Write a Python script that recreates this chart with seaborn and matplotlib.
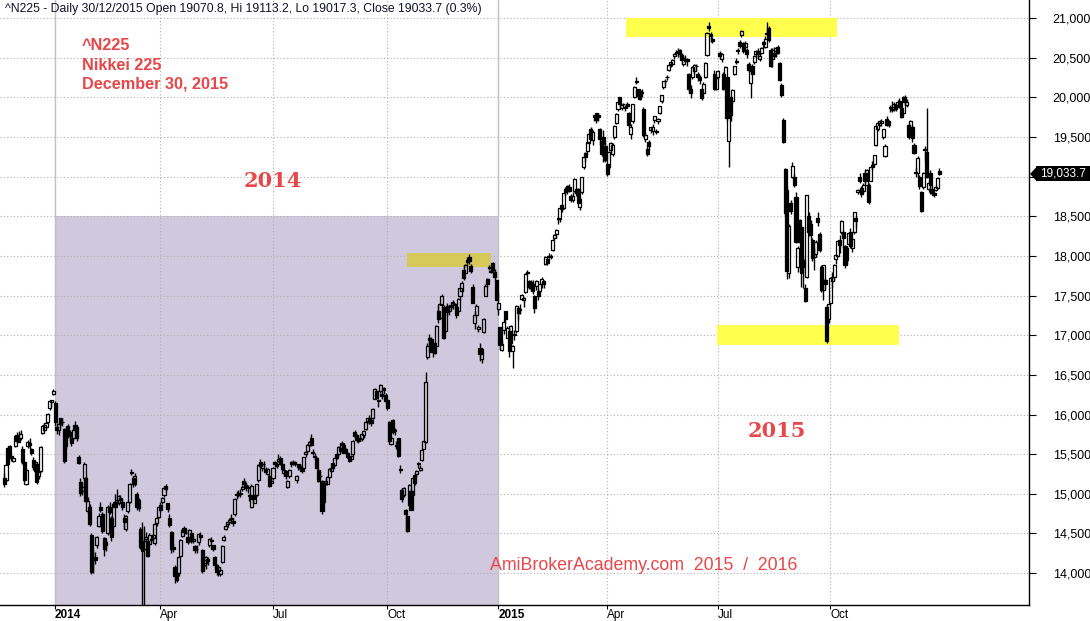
import matplotlib
matplotlib.use("Agg")
import matplotlib.pyplot as plt
from matplotlib.patches import Rectangle, Polygon
from matplotlib.collections import LineCollection, PatchCollection
import pandas as pd
import seaborn as sns

# ---------------- data: daily (open, high, low, close) per month ----------------
ohlc_2013_11 = [(15200,15260,15080,15126),(15170,15380,15150,15366),(15580,15600,15370,15382),(15600,15620,15480,15516),
                (15480,15520,15420,15450),(15420,15470,15400,15450),(15600,15730,15590,15728),(15740,15780,15640,15662)]
ohlc_2013_12 = [(15700,15790,15650,15655),(15700,15800,15680,15749),(15560,15600,15380,15407),(15400,15420,15150,15178),
                (15130,15320,15110,15300),(15600,15680,15580,15651),(15640,15700,15570,15611),(15560,15580,15490,15515),
                (15430,15460,15300,15341),(15290,15420,15270,15403),(15380,15390,15130,15152),(15220,15300,15190,15279),
                (15290,15600,15280,15587),(15770,15870,15750,15859),(15800,15890,15780,15870),(15840,15900,15820,15889),
                (15900,16020,15880,16009),(16080,16180,16060,16174),(16160,16180,16100,16178),(16260,16320,16250,16291)]
ohlc_2014_01 = [(16150,16170,15860,15910),(15840,15890,15760,15810),(15800,15900,15740,15880),(15950,15960,15830,15880),
                (15900,15950,15860,15910),(15820,15830,15390,15420),(15600,15830,15570,15810),(15850,15880,15700,15750),
                (15780,15800,15660,15730),(15700,15720,15600,15640),(15700,15820,15680,15800),(15870,15920,15800,15820),
                (15840,15860,15670,15700),(15460,15490,15370,15390),(15150,15200,14970,15010),(15040,15150,14990,15090),
                (15200,15400,15160,15380),(15200,15220,14890,14910),(14780,14960,14750,14910)]
ohlc_2014_02 = [(14830,14870,14600,14620),(14480,14500,13990,14010),(14160,14290,14000,14180),(14200,14270,14110,14160),
                (14360,14470,14320,14460),(14600,14760,14580,14720),(14840,14900,14770,14800),(14750,14770,14500,14530),
                (14440,14460,14210,14310),(14360,14420,14280,14390),(14500,14860,14480,14840),(14830,14900,14740,14770),
                (14700,14720,14410,14450),(14600,14880,14570,14870),(14900,15000,14820,14840),(14890,15060,14870,14920),
                (14880,14990,14860,14970),(14950,14990,14890,14920),(14900,14940,14790,14840)]
ohlc_2014_03 = [(14690,14740,14560,14650),(14560,14730,14530,14720),(14780,14910,14760,14900),(14900,15140,14880,15130),
                (15260,15310,15240,15270),(15200,15230,15090,15120),(15130,15260,15100,15220),(15000,15020,14800,14830),
                (14920,14950,14780,14820),(14560,14580,14300,14330),(14400,14640,13500,14280),(14300,14600,13500,14410),
                (14430,14520,14380,14460),(14400,14420,14200,14220),(14370,14500,14340,14480),(14430,14450,14380,14420),
                (14440,14500,14420,14480),(14380,14650,14350,14620),(14630,14720,14600,14700),(14710,14840,14700,14830)]
ohlc_2014_04 = [(14860,14900,14770,14790),(14900,14960,14870,14950),(14980,15100,14960,15070),(15100,15130,15020,15060),
                (14880,14890,14770,14810),(14700,14740,14580,14610),(14520,14530,14250,14300),(14330,14380,14270,14300),
                (14080,14100,13880,13960),(14000,14020,13890,13910),(14000,14220,13960,14200),(14220,14430,14200,14420),
                (14470,14560,14450,14550),(14570,14600,14480,14520),(14500,14560,14490,14510),(14460,14470,14370,14390),
                (14400,14560,14390,14550),(14500,14510,14380,14400),(14400,14470,14380,14430),(14340,14350,14250,14290),
                (14300,14350,14260,14300)]
ohlc_2014_05 = [(14390,14500,14360,14490),(14480,14520,14420,14460),(14290,14300,14000,14030),(14100,14200,14080,14160),
                (14130,14220,14050,14200),(14180,14200,14100,14150),(14360,14440,14330,14430),(14420,14450,14380,14410),
                (14350,14360,14280,14300),(14200,14210,14070,14100),(14100,14120,13980,14010),(14030,14100,13960,14080),
                (13990,14060,13960,14040),(14140,14360,14130,14340),(14420,14480,14400,14460),(14560,14620,14540,14600),
                (14620,14660,14580,14640),(14650,14700,14620,14670),(14690,14740,14640,14680),(14660,14700,14600,14630)]
ohlc_2014_06 = [(14740,14950,14720,14940),(15000,15030,14940,14980),(14990,15050,14960,15010),(15000,15060,14960,15000),
                (15060,15110,15030,15080),(15160,15200,15090,15120),(15110,15150,15040,15070),(15090,15110,15010,15070),
                (14980,15000,14910,14970),(14830,15120,14820,15100),(14990,15000,14900,14930),(14890,15000,14880,14980),
                (14990,15130,14970,15120),(15170,15370,15150,15360),(15400,15440,15320,15350),(15330,15380,15290,15370),
                (15370,15420,15340,15380),(15310,15340,15250,15270),(15250,15330,15240,15310),(15230,15250,15080,15100),
                (15140,15200,15120,15160)]
ohlc_2014_07 = [(15200,15340,15180,15330),(15400,15420,15340,15370),(15380,15400,15320,15350),(15420,15500,15400,15440),
                (15450,15480,15360,15380),(15370,15390,15290,15310),(15260,15320,15220,15300),(15290,15300,15190,15220),
                (15080,15180,15070,15160),(15220,15310,15200,15300),(15370,15410,15340,15400),(15400,15430,15360,15380),
                (15400,15420,15350,15370),(15170,15240,15140,15220),(15370,15380,15300,15340),(15350,15380,15300,15330),
                (15310,15340,15260,15290),(15330,15470,15320,15460),(15500,15540,15470,15530),(15540,15630,15520,15620),
                (15620,15660,15590,15650),(15710,15760,15600,15620)]
ohlc_2014_08 = [(15530,15560,15490,15520),(15470,15520,15430,15480),(15450,15470,15310,15320),(15300,15320,15150,15160),
                (15220,15290,15200,15230),(15160,15170,14750,14780),(14900,15140,14880,15130),(15140,15200,15110,15160),
                (15120,15230,15110,15210),(15210,15330,15200,15310),(15290,15340,15270,15320),(15390,15400,15310,15320),
                (15360,15460,15350,15450),(15500,15520,15440,15450),(15500,15600,15480,15590),(15580,15610,15520,15540),
                (15640,15660,15590,15610),(15620,15640,15510,15520),(15560,15580,15510,15530),(15520,15540,15450,15460),
                (15460,15480,15400,15420)]
ohlc_2014_09 = [(15440,15490,15420,15480),(15500,15680,15480,15670),(15780,15800,15700,15730),(15740,15760,15650,15680),
                (15700,15720,15640,15670),(15700,15740,15670,15710),(15690,15760,15670,15750),(15740,15800,15710,15790),
                (15820,15920,15800,15910),(15920,15960,15880,15950),(15960,15990,15880,15910),(15930,15950,15850,15890),
                (15950,16080,15940,16070),(16200,16330,16190,16320),(16300,16320,16190,16210),(16180,16200,16090,16170),
                (16300,16380,16270,16370),(16260,16300,16200,16230),(16330,16350,16260,16310),(16250,16270,16150,16170)]
ohlc_2014_10 = [(16180,16200,16060,16080),(15900,15920,15640,15660),(15630,15730,15620,15710),(15930,15940,15760,15780),
                (15800,15830,15740,15790),(15620,15660,15560,15600),(15700,15710,15470,15480),(15310,15360,15260,15300),
                (15050,15070,14900,14940),(14980,15090,14960,15070),(14800,14810,14530,14740),(14720,14730,14520,14530),
                (14860,15120,14850,15110),(15030,15060,14800,14800),(14980,15200,14970,15200),(15240,15260,15110,15140),
                (15250,15300,15200,15290),(15380,15400,15330,15390),(15300,15360,15290,15330),(15430,15560,15420,15550),
                (15570,15670,15560,15660),(15650,16530,15640,16410)]
ohlc_2014_11 = [(16730,16900,16700,16860),(16960,17010,16880,16940),(16950,16980,16790,16790),(16800,16920,16720,16880),
                (16900,16920,16760,16780),(16870,17130,16860,17120),(17300,17380,17150,17200),(17220,17400,17200,17390),
                (17380,17520,17370,17490),(17360,17380,16950,16970),(17050,17350,17030,17340),(17370,17400,17250,17290),
                (17300,17360,17260,17300),(17380,17420,17310,17360),(17420,17450,17330,17410),(17390,17410,17340,17380),
                (17350,17380,17220,17250),(17300,17470,17290,17460)]
ohlc_2014_12 = [(17500,17600,17440,17590),(17560,17680,17550,17660),(17820,17880,17700,17720),(17790,17900,17780,17890),
                (17950,17980,17880,17920),(17990,18030,17900,17940),(17870,17900,17780,17810),(17610,17640,17400,17410),
                (17150,17300,17080,17260),(17250,17390,17230,17370),(17080,17130,17040,17100),(16840,16900,16680,16760),
                (16700,16840,16650,16820),(17040,17220,17030,17210),(17500,17650,17490,17620),(17710,17720,17610,17640),
                (17850,17880,17820,17850),(17800,17830,17780,17810),(17910,17920,17780,17820),(17800,17830,17690,17730),
                (17690,17700,17440,17450)]
ohlc_2015_01 = [(17330,17540,17260,17410),(17100,17100,16810,16880),(16810,16940,16800,16890),(17060,17200,17020,17170),
                (17300,17310,17150,17200),(16970,17110,16960,17090),(17050,17100,16720,16800),(16900,17130,16870,17110),
                (16800,16880,16590,16860),(17000,17060,16940,17010),(17050,17380,17030,17370),(17340,17360,17190,17280),
                (17320,17390,17270,17330),(17460,17520,17440,17510),(17450,17480,17360,17470),(17540,17780,17530,17770),
                (17790,17820,17760,17800),(17680,17700,17580,17610),(17600,17690,17560,17670)]
ohlc_2015_02 = [(17640,17690,17520,17560),(17500,17510,17280,17340),(17620,17700,17570,17680),(17560,17600,17450,17500),
                (17560,17660,17540,17650),(17650,17730,17600,17710),(17680,17700,17600,17650),(17900,18000,17880,17980),
                (17960,17990,17880,17910),(17990,18040,17970,18000),(17980,18030,17960,18000),(18080,18210,18060,18200),
                (18230,18280,18200,18260),(18280,18340,18230,18330),(18480,18480,18400,18470),(18460,18610,18430,18600),
                (18640,18650,18560,18590),(18600,18790,18590,18790),(18850,18870,18760,18800)]
ohlc_2015_03 = [(18880,18900,18780,18830),(18870,18910,18800,18820),(18760,18780,18680,18700),(18710,18800,18680,18750),
                (18820,18980,18800,18970),(18850,18860,18760,18790),(18850,18860,18650,18670),(18620,18740,18580,18720),
                (18800,19000,18780,18990),(19120,19260,19100,19250),(19300,19310,19180,19250),(19320,19440,19280,19440),
                (19430,19550,19420,19540),(19600,19620,19460,19480),(19460,19590,19400,19560),(19780,19780,19700,19750),
                (19800,19800,19680,19710),(19780,19800,19700,19750),(19600,19610,19400,19470),(19450,19470,19260,19290),
                (19500,19590,19180,19410),(19380,19440,19180,19210)]
ohlc_2015_04 = [(19160,19170,19010,19030),(19120,19320,19100,19310),(19340,19440,19300,19430),(19280,19420,19260,19400),
                (19500,19650,19480,19640),(19680,19800,19660,19790),(19850,19940,19830,19940),(20000,20010,19880,19910),
                (19860,19920,19840,19900),(19920,19930,19870,19910),(19870,19900,19830,19870),(19920,19940,19860,19890),
                (19800,19810,19630,19650),(19540,19660,19480,19630),(19700,19920,19680,19910),(20010,20140,19990,20130),
                (20200,20250,20170,20190),(20100,20110,20000,20020),(20080,20100,19970,19980),(20060,20100,20000,20060),
                (19850,19880,19500,19520)]
ohlc_2015_05 = [(19480,19550,19440,19530),(19350,19380,19260,19290),(19440,19460,19350,19380),(19590,19630,19550,19620),
                (19570,19660,19520,19620),(19720,19770,19680,19760),(19560,19600,19540,19570),(19700,19740,19660,19730),
                (19800,19890,19790,19890),(19950,20030,19930,20030),(20130,20200,20110,20200),(20200,20230,20160,20200),
                (20250,20280,20220,20260),(20340,20420,20330,20410),(20420,20450,20380,20440),(20420,20480,20400,20470),
                (20520,20560,20480,20550),(20560,20600,20530,20560)]
ohlc_2015_06 = [(20580,20620,20510,20570),(20600,20610,20500,20540),(20530,20560,20420,20470),(20420,20530,20400,20490),
                (20480,20530,20440,20460),(20480,20500,20400,20460),(20300,20310,20050,20100),(20100,20150,19990,20050),
                (20250,20400,20230,20380),(20330,20420,20300,20410),(20400,20420,20330,20390),(20300,20320,20200,20260),
                (20260,20280,20170,20220),(20100,20120,19970,19990),(20060,20190,20040,20170),(20250,20440,20240,20430),
                (20530,20820,20520,20810),(20900,20950,20840,20870),(20800,20820,20700,20770),(20730,20760,20680,20710),
                (20300,20340,20090,20110),(20110,20270,20090,20240)]
ohlc_2015_07 = [(20260,20340,20230,20330),(20560,20580,20500,20520),(20480,20560,20440,20540),(20300,20320,20090,20110),
                (20200,20400,20180,20380),(20250,20260,19700,19740),(19450,19900,19120,19860),(20000,20010,19700,19780),
                (19950,20100,19920,20090),(20300,20400,20280,20390),(20450,20500,20420,20460),(20580,20620,20540,20600),
                (20700,20720,20620,20650),(20780,20850,20760,20840),(20680,20700,20560,20590),(20640,20710,20600,20680),
                (20600,20620,20500,20550),(20420,20450,20320,20350),(20180,20340,19990,20330),(20400,20420,20290,20300),
                (20440,20530,20420,20520),(20540,20600,20500,20590)]
ohlc_2015_08 = [(20580,20620,20500,20550),(20480,20560,20460,20520),(20560,20630,20540,20620),(20700,20710,20620,20670),
                (20640,20770,20620,20730),(20800,20950,20780,20810),(20880,20900,20700,20720),(20600,20620,20380,20390),
                (20480,20620,20380,20600),(20560,20640,20480,20520),(20580,20630,20510,20620),(20640,20660,20540,20560),
                (20430,20450,20200,20220),(20160,20180,20000,20030),(19710,19740,19420,19440),(19090,19110,18510,18540),
                (18830,18880,17710,17810),(17790,18400,17720,18380),(18670,18700,18530,18570),(19000,19190,18980,19140),
                (19000,19030,18870,18890)]
ohlc_2015_09 = [(18740,18800,18160,18170),(17860,18120,17800,18100),(18450,18460,18160,18180),(18360,18380,17610,17790),
                (17950,17980,17600,17860),(17600,17650,17420,17430),(17740,18770,17720,18770),(18500,18550,18250,18300),
                (18400,18450,18200,18260),(18200,18220,17930,17970),(17980,18100,17820,18030),(18030,18200,17980,18170),
                (18480,18560,18380,18430),(18270,18300,18050,18070),(17860,17880,17550,17570),(17570,17880,17450,17880),
                (17700,17720,17580,17650),(17360,17380,16900,16930),(17200,17390,17150,17390)]
ohlc_2015_10 = [(17400,17740,17380,17720),(17680,17800,17600,17730),(17740,17900,17700,17880),(17960,18020,17900,18010),
                (18000,18200,17980,18190),(18200,18260,18040,18140),(18300,18450,18280,18440),(18300,18320,18100,18230),
                (18120,18140,17850,17890),(17950,18110,17900,18100),(18150,18300,18120,18290),(18300,18350,18100,18130),
                (18100,18220,18050,18210),(18300,18560,18280,18550),(18480,18500,18350,18440),(18800,18850,18780,18830),
                (19000,19040,18920,18950),(18860,18880,18740,18780),(18820,18920,18790,18900),(19050,19100,18920,18940),
                (18900,19100,18880,19080)]
ohlc_2015_11 = [(18900,18920,18650,18680),(18950,19120,18940,19120),(19150,19200,19080,19120),(19160,19270,19140,19270),
                (19400,19650,19390,19640),(19600,19700,19580,19670),(19650,19720,19640,19700),(19670,19730,19640,19700),
                (19500,19600,19480,19600),(19260,19410,19250,19390),(19730,19760,19640,19650),(19700,19720,19620,19650),
                (19880,19900,19820,19860),(19840,19950,19820,19880),(19850,19940,19830,19920),(19900,19910,19830,19850),
                (19900,19960,19880,19940),(19950,19990,19870,19880),(19870,19900,19740,19750)]
ohlc_2015_12 = [(19800,20020,19790,20010),(20000,20030,19900,19940),(19900,19980,19880,19940),(19650,19670,19470,19500),
                (19620,19710,19590,19700),(19620,19650,19440,19490),(19400,19420,19280,19300),(19060,19120,19000,19050),
                (19040,19260,19000,19230),(19000,19020,18850,18880),(18800,18820,18550,18570),(18870,19060,18840,19050),
                (19330,19380,19200,19350),(19310,19870,18980,18990),(18850,18950,18800,18920),(19050,19080,18780,18890),
                (18840,18900,18770,18790),(18790,18810,18740,18770),(18830,18900,18820,18870),(18860,18990,18840,18980),
                (19070.8,19113.2,19017.3,19033.7)]

months = [("2013-11", ohlc_2013_11), ("2013-12", ohlc_2013_12),
          ("2014-01", ohlc_2014_01), ("2014-02", ohlc_2014_02), ("2014-03", ohlc_2014_03), ("2014-04", ohlc_2014_04),
          ("2014-05", ohlc_2014_05), ("2014-06", ohlc_2014_06), ("2014-07", ohlc_2014_07), ("2014-08", ohlc_2014_08),
          ("2014-09", ohlc_2014_09), ("2014-10", ohlc_2014_10), ("2014-11", ohlc_2014_11), ("2014-12", ohlc_2014_12),
          ("2015-01", ohlc_2015_01), ("2015-02", ohlc_2015_02), ("2015-03", ohlc_2015_03), ("2015-04", ohlc_2015_04),
          ("2015-05", ohlc_2015_05), ("2015-06", ohlc_2015_06), ("2015-07", ohlc_2015_07), ("2015-08", ohlc_2015_08),
          ("2015-09", ohlc_2015_09), ("2015-10", ohlc_2015_10), ("2015-11", ohlc_2015_11), ("2015-12", ohlc_2015_12)]

tick_months = ["2014-01", "2014-04", "2014-07", "2014-10", "2015-01", "2015-04", "2015-07", "2015-10"]
tick_labels = ["2014", "Apr", "Jul", "Oct", "2015", "Apr", "Jul", "Oct"]
price_ticks = list(range(14000, 21001, 500))
last_close = 19033.7
title_text = "^N225 - Daily 30/12/2015 Open 19070.8, Hi 19113.2, Lo 19017.3, Close 19033.7 (0.3%)"
note_lines = ["^N225", "Nikkei 225", "December 30, 2015"]
zone_2014 = ("2014-01", "2015-01", 18500)

rows = []
for m, vals in months:
    for o, h, l, c in vals:
        rows.append({"month": m, "open": o, "high": h, "low": l, "close": c})
df = pd.DataFrame(rows)
df["x"] = range(len(df))
month_start = df.groupby("month")["x"].min()

# ---------------- styling ----------------
sns.set_theme(style="white")
plt.rcParams["font.family"] = ["DejaVu Sans"]

W, H = 1090, 621
fig = plt.figure(figsize=(W / 100, H / 100), dpi=100)
ax = fig.add_axes([0, 16 / H, 1029 / W, 605 / H])

px_per_day = 1.816
x0 = -4.2 / px_per_day
ax.set_xlim(x0, x0 + 1029 / px_per_day)
ax.set_ylim(13598, 21227)

def px_to_day(xp):
    return (xp - 4.2) / px_per_day

# purple 2014 zone
xs = month_start[zone_2014[0]]
xe = month_start[zone_2014[1]]
ax.add_patch(Rectangle((xs, 13000), xe - xs, zone_2014[2] - 13000, facecolor="#d0c9de",
                       edgecolor="none", zorder=0))

# grid
for p in price_ticks:
    ax.axhline(p, color="#b0b0b0", lw=0.8, ls=(0, (1, 2)), zorder=0.5)
for m, lab in zip(tick_months, tick_labels):
    xv = month_start[m]
    if lab.isdigit():
        ax.axvline(xv, color="#c0c0c0", lw=1.0, zorder=0.5)
    else:
        ax.axvline(xv, color="#b0b0b0", lw=0.8, ls=(0, (1, 2)), zorder=0.5)

# highlight boxes
def box(xa, xb, ya, yb, color):
    ax.add_patch(Rectangle((xa, ya), xb - xa, yb - ya, facecolor=color, edgecolor="none", zorder=1))

box(px_to_day(407), px_to_day(491), 17860, 18037, "#d6c95a")
box(px_to_day(626), px_to_day(837), 20760, 21000, "#ffff4d")
box(px_to_day(717), px_to_day(899), 16877, 17129, "#ffff4d")

# candles
w = 1.7
segs, rects, fcs = [], [], []
for _, r in df.iterrows():
    o, h, l, c, x = r["open"], r["high"], r["low"], r["close"], r["x"]
    top, bot = max(o, c), min(o, c)
    segs.append([(x, h), (x, top)])
    segs.append([(x, bot), (x, l)])
    rects.append(Rectangle((x - w / 2, bot), w, max(top - bot, 6)))
    fcs.append((1, 1, 1, 0) if c >= o else (0, 0, 0, 1))
ax.add_collection(LineCollection(segs, colors="black", linewidths=1.0, zorder=2))
ax.add_collection(PatchCollection(rects, facecolors=fcs, edgecolors="black", linewidths=0.9, zorder=3))

# axes
sns.despine(ax=ax, left=True, top=True, right=False, bottom=False)
for s in ("right", "bottom"):
    ax.spines[s].set_color("black")
    ax.spines[s].set_linewidth(1.0)
ax.yaxis.tick_right()
ax.set_yticks(price_ticks)
ax.set_yticklabels(["" if p == 19000 else f"{p:,}" for p in price_ticks])
ax.tick_params(axis="y", direction="out", length=5, width=0.8, color="black", pad=12,
               labelsize=9, labelcolor="black", right=True, left=False)
for t in ax.get_yticklabels():
    t.set_family("Liberation Sans")
ax.set_xticks([month_start[m] for m in tick_months])
ax.set_xticklabels(tick_labels)
ax.tick_params(axis="x", direction="out", length=3, width=0.8, color="black", pad=0,
               labelsize=8.5, labelcolor="black", bottom=True)
for t, lab in zip(ax.get_xticklabels(), tick_labels):
    t.set_ha("left")
    t.set_family("Liberation Sans")
    if lab.isdigit():
        t.set_fontweight("bold")
ax.grid(False)
ax.set_facecolor("white")

def fp(x, y):
    return x / W, 1 - y / H

red = "#e8474a"
fig.text(*fp(5, 9), title_text, fontsize=8.8, color="#101028", va="center", ha="left",
         family="Liberation Sans")
for i, line in enumerate(note_lines):
    fig.text(*fp(82, 46 + 19 * i), line, fontsize=11.7, color=red, fontweight="bold",
             family="Liberation Sans", va="center", ha="left")
fig.text(*fp(273, 181), "2014", fontsize=15, color=red, fontweight="bold", family="DejaVu Serif",
         va="center", ha="center")
fig.text(*fp(777, 431), "2015", fontsize=15, color=red, fontweight="bold", family="DejaVu Serif",
         va="center", ha="center")
fig.text(*fp(490, 565), "AmiBrokerAcademy.com  2015  /  2016", fontsize=12.8, color=red,
         family="Liberation Sans", va="center", ha="left")

# last price label
yl = ax.transData.transform((0, last_close))[1]
ypx = H - yl
fig.patches.append(Rectangle(fp(1036, ypx + 7.5), 60 / W, 15 / H, transform=fig.transFigure,
                             facecolor="black", edgecolor="none", figure=fig))
fig.patches.append(Polygon([fp(1030, ypx), fp(1037, ypx - 7.5), fp(1037, ypx + 7.5)], closed=True,
                           transform=fig.transFigure, facecolor="black", edgecolor="none", figure=fig))
fig.text(*fp(1040, ypx), f"{last_close:,.1f}", fontsize=8.5, color="white", va="center", ha="left",
         family="Liberation Sans")

fig.savefig("out.png", dpi=100)
